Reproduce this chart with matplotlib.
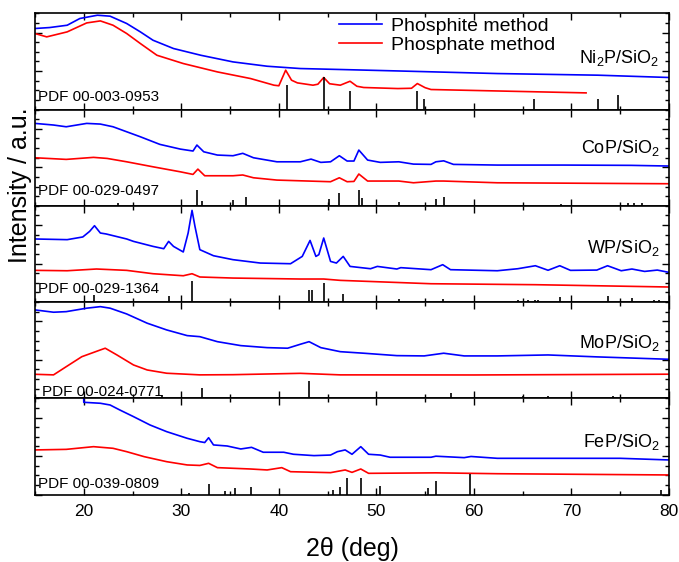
import matplotlib
matplotlib.use("Agg")
import matplotlib.pyplot as plt
from matplotlib.ticker import MultipleLocator

plt.rcParams['font.family'] = ['Liberation Sans', 'DejaVu Sans']

# ---- Ni2P/SiO2 ----
ni2p_blue_x = [15, 16.5, 18.3, 19.6, 21.4, 22.7, 24.4, 25.8, 27.1, 29.2, 32.0, 35.3, 38.8, 42.2, 46.3, 52.2, 62.4, 72.7, 80]
ni2p_blue_y = [84.2, 85.2, 87.6, 94.6, 98.0, 97.0, 89.4, 80.7, 72.0, 63.4, 56.4, 49.5, 45.0, 42.6, 41.6, 40.1, 37.4, 35.7, 33.3]
ni2p_red_x = [15, 16.2, 18.3, 20.3, 21.7, 23.0, 24.4, 25.8, 27.5, 30.2, 33.7, 37.1, 39.5, 40.0, 40.7, 41.3, 41.9, 43.5,
              44.0, 44.6, 45.2, 46.3, 47.3, 48.0, 48.7, 52.2, 53.6, 54.2, 55.0, 55.6, 62.4, 71.5]
ni2p_red_y = [79.0, 75.5, 80.7, 90.0, 92.1, 87.6, 79.0, 68.6, 56.4, 47.8, 39.1, 32.2, 25.3, 24.7, 40.9, 30.5, 27.7, 25.3,
              26.3, 33.3, 26.8, 25.3, 29.4, 24.2, 22.9, 21.8, 22.1, 27.0, 22.7, 20.8, 19.3, 17.3]
ni2p_stick_x = [40.8, 44.6, 47.3, 54.2, 54.9, 66.2, 72.7, 74.8]
ni2p_stick_h = [26, 34, 19.3, 19.3, 11, 11, 11, 15.6]

# ---- CoP/SiO2 ----
cop_blue_x = [15, 16.9, 18.2, 20.3, 21.7, 23.0, 24.4, 25.8, 27.8, 29.9, 31.2, 31.6, 32.3, 33.7, 35.3, 36.3, 37.4, 39.8,
              42.2, 43.3, 44.3, 45.3, 46.2, 47.0, 47.7, 48.2, 49.1, 50.4, 52.3, 53.8, 55.6, 56.1, 56.9, 57.9, 62.4,
              69.2, 76.1, 80]
cop_blue_y = [85.6, 83.9, 82.1, 85.6, 84.9, 82.1, 76.9, 71.7, 63.8, 58.9, 56.9, 63.1, 56.1, 52.7, 52.0, 54.5, 49.9, 45.7,
              45.7, 48.5, 45.1, 45.7, 52.0, 46.5, 46.5, 57.9, 47.5, 45.1, 45.7, 43.3, 43.0, 45.7, 46.7, 43.0, 42.3,
              42.3, 42.0, 41.3]
cop_red_x = [15, 18.2, 21.0, 22.4, 24.4, 27.1, 29.9, 31.2, 31.7, 32.4, 35.3, 36.3, 37.4, 39.8, 45.3, 46.2, 47.0, 47.7,
             48.2, 49.1, 52.3, 53.8, 56.1, 56.9, 62.4, 80]
cop_red_y = [49.9, 48.2, 50.3, 49.2, 45.7, 40.5, 35.3, 32.6, 38.1, 31.2, 31.2, 32.0, 29.1, 26.7, 25.0, 29.1, 25.0, 25.3,
             33.0, 25.7, 25.7, 23.9, 25.7, 25.7, 23.9, 22.9]
cop_stick_x = [23.5, 31.6, 32.1, 35.3, 36.6, 45.1, 46.2, 48.2, 48.5, 52.3, 56.1, 56.9, 68.9, 75.8, 76.4, 77.2]
cop_stick_h = [2.5, 16.3, 4.9, 6, 9.4, 6.6, 12.9, 16.3, 8.3, 4.2, 7, 9.4, 1.5, 3, 3, 3]

# ---- WP/SiO2 ----
wp_blue_x = [15, 18.3, 19.9, 20.6, 21.1, 21.7, 22.3, 24.4, 25.1, 27.1, 28.2, 28.7, 29.2, 30.2, 30.7, 31.1, 31.4, 31.9,
             33.3, 35.3, 38.1, 41.2, 42.4, 43.2, 43.8, 44.1, 44.6, 45.3, 45.9, 46.6, 47.3, 49.4, 50.1, 52.1, 52.5,
             55.6, 56.8, 57.6, 62.4, 64.5, 66.3, 67.6, 68.8, 69.9, 72.6, 73.7, 75.1, 76.2, 77.5, 78.8, 80]
wp_blue_y = [65.5, 64.8, 67.6, 73.4, 79.3, 71.7, 70.7, 65.5, 63.0, 57.8, 55.4, 63.0, 57.8, 52.0, 71.7, 95.2, 78.6, 54.4,
             48.1, 44.0, 40.5, 39.8, 47.4, 64.0, 47.4, 49.2, 66.5, 42.2, 40.5, 47.4, 37.0, 34.6, 37.0, 34.3, 35.7,
             33.6, 38.8, 33.6, 32.5, 34.6, 37.7, 33.0, 37.7, 32.9, 33.2, 37.7, 32.5, 34.3, 31.8, 33.2, 30.8]
wp_red_x = [15, 18.3, 21.3, 24.4, 27.1, 30.2, 31.1, 31.9, 35.3, 42.2, 44.6, 46.3, 55.6, 66.3, 80]
wp_red_y = [32.9, 32.5, 34.3, 32.9, 29.4, 27.3, 29.4, 26.0, 24.9, 23.9, 23.9, 22.5, 19.0, 18.0, 15.6]
wp_stick_x = [21.1, 28.7, 31.1, 43.1, 43.4, 44.6, 46.6, 52.3, 56.8, 64.5, 65.5, 66.3, 66.6, 68.8, 73.7, 76.2, 78.5, 79.0]
wp_stick_h = [7.6, 5.8, 21.4, 12.8, 12.8, 19.7, 8.6, 3, 3, 2, 2, 2.5, 2.5, 5, 6, 4, 2, 2]

# ---- MoP/SiO2 ----
mop_blue_x = [15, 16.9, 18.2, 20.3, 21.7, 22.7, 24.4, 26.5, 28.5, 30.6, 31.9, 33.7, 36.1, 38.8, 40.9, 42.2, 43.1, 44.3,
              46.3, 48.7, 52.1, 54.9, 56.9, 59.0, 62.4, 67.6, 72.6, 80]
mop_blue_y = [91.8, 89.4, 90.0, 93.6, 95.2, 93.6, 87.6, 78.0, 71.0, 65.1, 64.0, 58.8, 54.7, 52.6, 52.0, 56.1, 58.8, 52.6,
              48.4, 46.8, 44.3, 44.0, 46.8, 44.0, 44.0, 45.0, 43.0, 40.5]
mop_red_x = [15, 16.9, 18.2, 19.8, 21.7, 22.2, 23.4, 25.1, 26.5, 28.5, 31.9, 35.3, 42.2, 46.3, 60, 80]
mop_red_y = [24.9, 24.3, 32.8, 43.2, 50.2, 52.0, 45.0, 34.6, 29.4, 26.0, 24.3, 24.5, 25.9, 24.3, 24.2, 25.0]
mop_stick_x = [28.0, 32.1, 43.1, 57.6, 65.0, 67.6, 74.3]
mop_stick_h = [3, 11, 18, 5.2, 2, 2, 2]

# ---- FeP/SiO2 ----
fep_blue_x = [15, 19.95, 20.0, 21.7, 22.7, 23.7, 25.1, 26.8, 28.5, 30.6, 31.9, 32.4, 32.8, 33.3, 34.7, 36.1, 37.2, 38.4,
              40.5, 41.5, 43.6, 45.3, 46.0, 46.8, 47.5, 48.4, 49.2, 50.4, 51.4, 55.6, 56.1, 59.0, 59.7, 62.4, 69, 75, 80]
fep_blue_y = [130, 130, 95.8, 94.8, 93.0, 87.8, 80.9, 72.2, 65.3, 58.4, 54.9, 54.0, 59.0, 51.5, 50.4, 47.3, 49.0, 43.9,
              43.9, 41.8, 40.4, 41.0, 44.5, 46.3, 41.8, 49.7, 41.8, 41.0, 38.7, 38.7, 39.8, 38.3, 39.5, 37.6, 37.6, 37.6, 35.9]
fep_red_x = [15, 18.2, 21.0, 23.0, 24.4, 26.2, 28.5, 30.6, 31.9, 32.8, 33.7, 37.1, 38.8, 40.3, 41.2, 45.3, 46.8, 47.5,
             48.4, 49.2, 56.1, 62.4, 80]
fep_red_y = [46.3, 46.9, 49.7, 48.0, 44.5, 39.3, 34.1, 30.7, 30.2, 32.4, 27.9, 26.5, 25.5, 27.9, 23.7, 22.7, 25.5, 23.0,
             26.5, 22.0, 22.5, 21.6, 20.3]
fep_stick_x = [30.8, 32.8, 34.5, 35.5, 37.1, 45.6, 46.3, 47.0, 48.4, 50.4, 55.3, 56.1, 59.6, 79.2]
fep_stick_h = [2, 10.6, 4, 6.4, 7.5, 4.7, 8.1, 17.5, 16.8, 8.8, 7, 14, 21, 4.7]

panels = [
    ("Ni$_\\mathregular{2}$P/SiO$_\\mathregular{2}$", "PDF 00-003-0953", ni2p_blue_x, ni2p_blue_y, ni2p_red_x, ni2p_red_y, ni2p_stick_x, ni2p_stick_h, 0.54, 0.135, 0.005),
    ("CoP/SiO$_\\mathregular{2}$", "PDF 00-029-0497", cop_blue_x, cop_blue_y, cop_red_x, cop_red_y, cop_stick_x, cop_stick_h, 0.60, 0.156, 0.005),
    ("WP/SiO$_\\mathregular{2}$", "PDF 00-029-1364", wp_blue_x, wp_blue_y, wp_red_x, wp_red_y, wp_stick_x, wp_stick_h, 0.56, 0.135, 0.005),
    ("MoP/SiO$_\\mathregular{2}$", "PDF 00-024-0771", mop_blue_x, mop_blue_y, mop_red_x, mop_red_y, mop_stick_x, mop_stick_h, 0.57, 0.07, 0.011),
    ("FeP/SiO$_\\mathregular{2}$", "PDF 00-039-0809", fep_blue_x, fep_blue_y, fep_red_x, fep_red_y, fep_stick_x, fep_stick_h, 0.55, 0.11, 0.005),
]

fig, axes = plt.subplots(5, 1, sharex=True, figsize=(6.79, 5.62), dpi=100)
fig.subplots_adjust(left=35/679, right=669/679, top=1-13.3/562, bottom=1-494.5/562, hspace=0)

for i, (name, pdf, bx, by, rx, ry, sx, sh, ny, py, px) in enumerate(panels):
    ax = axes[i]
    ax.plot(bx, by, color='#0000ff', lw=1.2, label='Phosphite method')
    ax.plot(rx, ry, color='#ff0000', lw=1.2, label='Phosphate method')
    ax.vlines(sx, 0, sh, color='k', lw=1.2)
    ax.set_xlim(15, 80)
    ax.set_ylim(0, 100)
    ax.text(0.985, ny, name, transform=ax.transAxes, ha='right', va='center', fontsize=13)
    ax.text(px, py, pdf, transform=ax.transAxes, ha='left', va='center', fontsize=11)
    ax.xaxis.set_major_locator(MultipleLocator(10))
    ax.xaxis.set_minor_locator(MultipleLocator(5))
    ax.yaxis.set_major_locator(MultipleLocator(40))
    ax.yaxis.set_minor_locator(MultipleLocator(10))
    ax.tick_params(which='both', direction='in', top=True, bottom=True, left=True, right=True, labelleft=False, width=1)
    ax.tick_params(which='major', length=5)
    ax.tick_params(which='minor', length=3)
    for s in ax.spines.values():
        s.set_linewidth(1.2)

axes[0].legend(loc='upper left', bbox_to_anchor=(0.48, 0.955), frameon=False, fontsize=14,
               handlelength=2.2, handletextpad=0.45, labelspacing=0.05, borderpad=0, borderaxespad=0)
axes[-1].tick_params(axis='x', labelsize=12.5, pad=7)

fig.text(352/679, 1-549/562, "2θ (deg)", ha='center', va='center', fontsize=18)
fig.text(20/679, 1-185/562, "Intensity / a.u.", ha='center', va='center', rotation=90, fontsize=18)

fig.savefig("out.png", dpi=100)
